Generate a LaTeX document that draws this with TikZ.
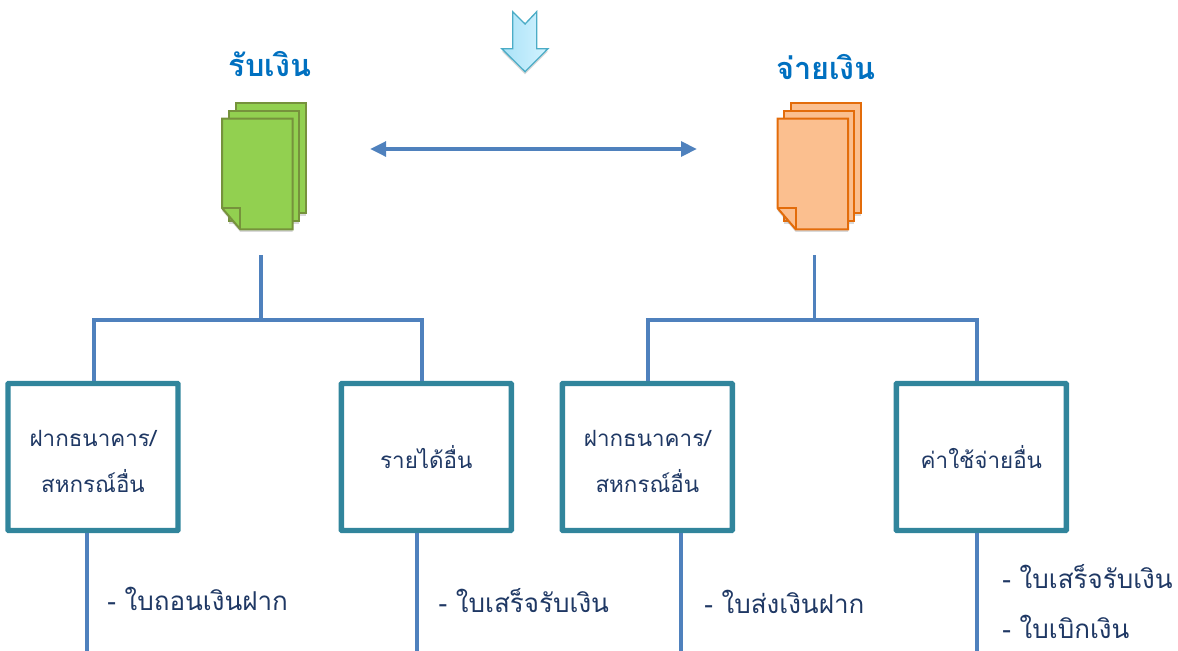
\documentclass[tikz,border=0pt]{standalone}
\usepackage{fontspec}
\newfontfamily\thaifont[Script=Thai]{Loma}
\usepackage{xcolor}
\usepackage{tikz}
\usetikzlibrary{calc, arrows.meta, shadows, positioning}
\definecolor{linecol}{RGB}{79, 129, 189}
\definecolor{boxcol}{RGB}{49, 133, 156}
\definecolor{navy}{RGB}{31, 56, 100}
\definecolor{headcol}{RGB}{0, 112, 192}
\definecolor{greenfill}{RGB}{146, 208, 80}
\definecolor{greenline}{RGB}{118, 146, 60}
\definecolor{orangefill}{RGB}{251, 191, 143}
\definecolor{orangeline}{RGB}{227, 108, 10}
\definecolor{arrowline}{RGB}{75, 172, 198}
\definecolor{arrowleftcol}{RGB}{170, 226, 247}
\definecolor{arrowrightcol}{RGB}{210, 243, 255}
\newcommand{\linegap}{\rule{0pt}{19pt}}
\tikzset{
    rectanglenode/.style = {draw=boxcol, rectangle, line width=4pt, rounded corners=0.5pt, fill=white,
      minimum width=127.5pt, minimum height=110.25pt, inner sep=0em, node distance=0em, align=center,
      text=navy, font=\thaifont\fontsize{16.8}{34.5}\selectfont},
    textnode/.style = {draw=none, fill=none, rectangle, inner sep=0em, node distance=0em, align=left,
      text=navy, font=\thaifont\fontsize{19.5}{38}\selectfont},
    headnode/.style = {draw=none, fill=none, rectangle, inner sep=0em, node distance=0em,
      text=headcol, font=\thaifont\bfseries\fontsize{23}{28}\selectfont},
    softshadow/.style = {drop shadow={opacity=0.3, shadow xshift=0pt, shadow yshift=-2pt}},
    sheetnode/.style = {rectangle, inner sep=0em, node distance=0em, minimum width=52.5pt, minimum height=82.5pt},
    greensheet/.style = {draw=greenline, fill=greenfill, line width=1.5pt, softshadow},
    orangesheet/.style = {draw=orangeline, fill=orangefill, line width=1.5pt, softshadow},
    connect/.style = {linecol, line width=2.8pt},
    barline/.style = {connect, shorten <=-1.5pt, shorten >=-1.5pt}
}

\begin{document}
\begin{tikzpicture}
\useasboundingbox (0pt,0pt) rectangle (883.5pt,-487.5pt);

% top arrow
\draw[draw=arrowline, line width=1pt, left color=arrowleftcol, right color=arrowrightcol, softshadow]
	(384.5pt,-8.8pt) -- (393.8pt,-18pt) -- (402.5pt,-8.8pt) -- (402.5pt,-36.5pt) -- (411pt,-36.5pt)
	-- (393.8pt,-53.8pt) -- (376.3pt,-36.5pt) -- (384.5pt,-36.5pt) -- cycle;

% left stack
\node[sheetnode, greensheet, name=recvback] at (202.9pt,-118.5pt) {};
\node[sheetnode, greensheet, name=recvmid, below of = recvback, anchor=center, xshift=-4.9pt, yshift=-6pt] {};
\node[sheetnode, name=recvfront, below of = recvmid, anchor=center, xshift=-4.9pt, yshift=-6pt] {};
\draw[greensheet] (recvfront.north west) -- (recvfront.north east) -- (recvfront.south east)
	-- ($(recvfront.south west)+(13.5pt,0pt)$) -- ($(recvfront.south west)+(0pt,15.75pt)$) -- cycle;
\draw[draw=greenline, line width=1.5pt] ($(recvfront.south west)+(0pt,15.75pt)$) -- ($(recvfront.south west)+(13.5pt,15.75pt)$) -- ($(recvfront.south west)+(13.5pt,0pt)$);
\node[headnode, name=recvhead, above of = recvback, anchor=center, yshift=70.5pt, xshift=-0.4pt] {รับเงิน};

% right stack
\node[sheetnode, orangesheet, name=payback, right of = recvback, xshift=416.6pt] {};
\node[sheetnode, orangesheet, name=paymid, below of = payback, anchor=center, xshift=-4.9pt, yshift=-6pt] {};
\node[sheetnode, name=payfront, below of = paymid, anchor=center, xshift=-4.9pt, yshift=-6pt] {};
\draw[orangesheet] (payfront.north west) -- (payfront.north east) -- (payfront.south east)
	-- ($(payfront.south west)+(13.5pt,0pt)$) -- ($(payfront.south west)+(0pt,15.75pt)$) -- cycle;
\draw[draw=orangeline, line width=1.5pt] ($(payfront.south west)+(0pt,15.75pt)$) -- ($(payfront.south west)+(13.5pt,15.75pt)$) -- ($(payfront.south west)+(13.5pt,0pt)$);
\node[headnode, name=payhead, above of = payback, anchor=center, yshift=68.25pt] {จ่ายเงิน};

% arrow between stacks
\coordinate (arrowleft) at ($(recvfront.east)+(58pt,18.75pt)$);
\coordinate (arrowright) at ($(payfront.west)+(-60.5pt,18.75pt)$);
\draw[connect, {Triangle[length=12pt,width=11pt]}-{Triangle[length=12pt,width=11pt]}] (arrowleft) -- (arrowright);

% boxes
\node[rectanglenode, name=bankin] at (69.75pt,-342.75pt) {\linegap ฝากธนาคาร/\\สหกรณ์อื่น};
\node[rectanglenode, name=otherin, right of = bankin, xshift=250pt] {รายได้อื่น};
\node[rectanglenode, name=bankout, right of = otherin, xshift=165.75pt] {\linegap ฝากธนาคาร/\\สหกรณ์อื่น};
\node[rectanglenode, name=otherout, right of = bankout, xshift=250.5pt] {ค่าใช้จ่ายอื่น};

% left tree
\coordinate (recvstem) at ($(recvfront.south)+(2.4pt,-19.5pt)$);
\coordinate (recvjoin) at (recvstem |- 0,-240pt);
\coordinate (recvbarl) at ($(bankin.north)+(0.75pt,46.5pt)$);
\coordinate (recvbarr) at ($(otherin.north)+(-3.4pt,46.5pt)$);
\draw[connect] (recvstem) -- (recvjoin);
\draw[barline] (recvbarl |- recvjoin) -- (recvbarr |- recvjoin);
\draw[connect] (recvbarl |- recvjoin) -- (recvbarl |- bankin.north);
\draw[connect] (recvbarr |- recvjoin) -- (recvbarr |- otherin.north);

% right tree
\coordinate (paystem) at ($(payfront.south)+(1.2pt,-19.5pt)$);
\coordinate (payjoin) at (paystem |- 0,-240pt);
\coordinate (paybarl) at ($(bankout.north)+(0.4pt,46.5pt)$);
\coordinate (paybarr) at ($(otherout.north)+(-3.4pt,46.5pt)$);
\draw[connect] (paystem) -- (payjoin);
\draw[barline] (paybarl |- payjoin) -- (paybarr |- payjoin);
\draw[connect] (paybarl |- payjoin) -- (paybarl |- bankout.north);
\draw[connect] (paybarr |- payjoin) -- (paybarr |- otherout.north);

% lines under the boxes
\coordinate (bankinend) at ($(bankin.south)+(-4.5pt,-90pt)$);
\coordinate (otherinend) at ($(otherin.south)+(-7pt,-90pt)$);
\coordinate (bankoutend) at ($(bankout.south)+(25.5pt,-90pt)$);
\coordinate (otheroutend) at ($(otherout.south)+(-3.4pt,-90pt)$);
\draw[connect] ($(bankin.south)+(-4.5pt,0pt)$) -- (bankinend);
\draw[connect] ($(otherin.south)+(-7pt,0pt)$) -- (otherinend);
\draw[connect] ($(bankout.south)+(25.5pt,0pt)$) -- (bankoutend);
\draw[connect] ($(otherout.south)+(-3.4pt,0pt)$) -- (otheroutend);

% lists
\node[textnode, name=listbankin, below of = bankin, anchor=west, xshift=10.5pt, yshift=-106.5pt] {- ใบถอนเงินฝาก};
\node[textnode, name=listotherin, below of = otherin, anchor=west, xshift=9pt, yshift=-108pt] {- ใบเสร็จรับเงิน};
\node[textnode, name=listbankout, below of = bankout, anchor=west, xshift=42.5pt, yshift=-109pt] {- ใบส่งเงินฝาก};
\node[textnode, name=listotherout, below of = otherout, anchor=west, xshift=15.5pt, yshift=-108.4pt] {- ใบเสร็จรับเงิน\\- ใบเบิกเงิน};
\end{tikzpicture}
\end{document}
